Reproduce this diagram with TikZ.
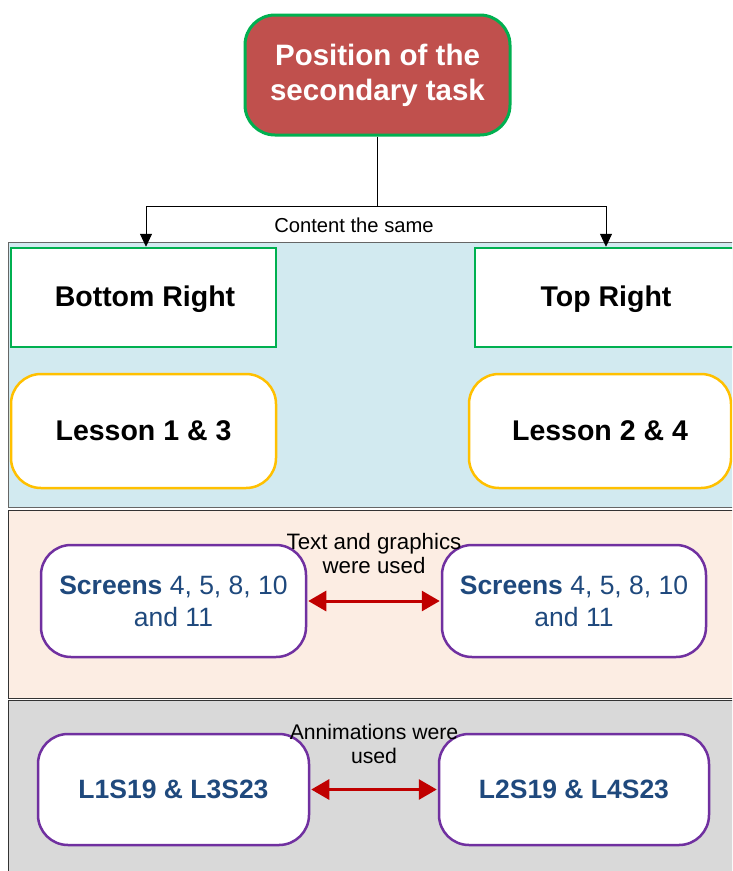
\documentclass[tikz,border=0pt]{standalone}
\usepackage{fontspec}
\setmainfont{Liberation Sans}
\usetikzlibrary{arrows.meta}
\definecolor{redfill}{HTML}{C0504D}
\definecolor{greenline}{HTML}{00B050}
\definecolor{orangeline}{HTML}{FFC000}
\definecolor{purpleline}{HTML}{7030A0}
\definecolor{darkblue}{HTML}{1F497D}
\definecolor{arrowred}{HTML}{C00000}
\definecolor{bluepanel}{HTML}{D2EAF0}
\definecolor{peachpanel}{HTML}{FCEDE3}
\definecolor{graypanel}{HTML}{D9D9D9}
\tikzset{
  panel/.style={draw=black!60, line width=1pt},
  titlebox/.style={draw=greenline, line width=3pt, fill=redfill, rounded corners=30pt,
    minimum width=265pt, minimum height=120pt, inner sep=0pt, align=center,
    text=white, font=\fontsize{29.5}{35}\selectfont\bfseries},
  greenbox/.style={draw=greenline, line width=2.5pt, fill=white,
    minimum width=265pt, minimum height=99pt, inner sep=0pt, align=center,
    font=\fontsize{28.5}{32}\selectfont\bfseries},
  boxtext/.style={inner sep=0pt, font=\fontsize{28.5}{32}\selectfont\bfseries},
  orangebox/.style={draw=orangeline, line width=2.5pt, fill=white, rounded corners=30pt,
    minimum width=265pt, minimum height=114pt, inner sep=0pt, align=center,
    font=\fontsize{28.5}{32}\selectfont\bfseries},
  purplebox/.style={draw=purpleline, line width=2.5pt, fill=white, rounded corners=30pt,
    minimum height=112pt, inner sep=0pt, align=center, text=darkblue,
    font=\fontsize{26.5}{32}\selectfont},
  lbl/.style={inner sep=0pt, align=center, font=\fontsize{22}{24}\selectfont},
  conn/.style={line width=0.8pt, -{Triangle[length=13pt,width=12pt]}},
  redarrow/.style={draw=arrowred, line width=3pt, {Triangle[length=18pt,width=20pt]}-{Triangle[length=18pt,width=20pt]}, shorten <=1pt, shorten >=1pt}
}
\begin{document}
\begin{tikzpicture}[x=1pt,y=-1pt]
\clip (0,0) rectangle (732,871);
\fill[white] (0,0) rectangle (732,871);
% panels
\draw[panel, fill=bluepanel] (8,242) rectangle (740,507);
\draw[panel, draw=black!80, fill=peachpanel] (8,510) rectangle (740,698);
\draw[panel, draw=black!80, fill=graypanel] (8,700) rectangle (740,880);
% title
\node[titlebox] (title) at (377.5,75) {Position of the\\secondary task};
% top boxes
\node[greenbox] (br) at (143.5,297.5) {};
\node[boxtext] (brt) at (145,299) {Bottom Right};
\node[greenbox, minimum width=270pt] (tr) at (610,297.5) {};
\node[boxtext] (trt) at (606,299) {Top Right};
\node[orangebox] (l13) at (143.5,431) {Lesson 1 \& 3};
\node[orangebox, minimum width=262pt] (l24) at (600,431) {Lesson 2 \& 4};
% connectors from title
\coordinate (split) at (377.5,206);
\coordinate (leftc) at (146,206);
\coordinate (rightc) at (606,206);
\draw[line width=0.8pt] (title.south) -- (split);
\draw[conn] (split) -- (leftc) -- (br.north -| leftc);
\draw[conn] (split) -- (rightc) -- (tr.north -| rightc);
\node[lbl, font=\fontsize{20.2}{22}\selectfont] (same) at (354,225) {Content the same};
% screens
\node[purplebox, minimum width=265pt] (s1) at (173.5,601) {\textbf{Screens} 4, 5, 8, 10\\and 11};
\node[purplebox, minimum width=264pt] (s2) at (574,601) {\textbf{Screens} 4, 5, 8, 10\\and 11};
\draw[redarrow] (s1.east) -- (s2.west);
\node[lbl, font=\fontsize{22.3}{24}\selectfont] (tg) at (374,554) {Text and graphics\\were used};
% animations
\node[purplebox, minimum width=271pt, font=\fontsize{26.5}{32}\selectfont\bfseries, minimum height=111pt] (a1) at (173.5,789.5) {L1S19 \& L3S23};
\node[purplebox, minimum width=270pt, font=\fontsize{26.5}{32}\selectfont\bfseries, minimum height=111pt] (a2) at (574,789.5) {L2S19 \& L4S23};
\draw[redarrow] (a1.east) -- (a2.west);
\node[lbl, font=\fontsize{21.2}{24}\selectfont] (an) at (374,744) {Annimations were\\used};
\end{tikzpicture}
\end{document}
